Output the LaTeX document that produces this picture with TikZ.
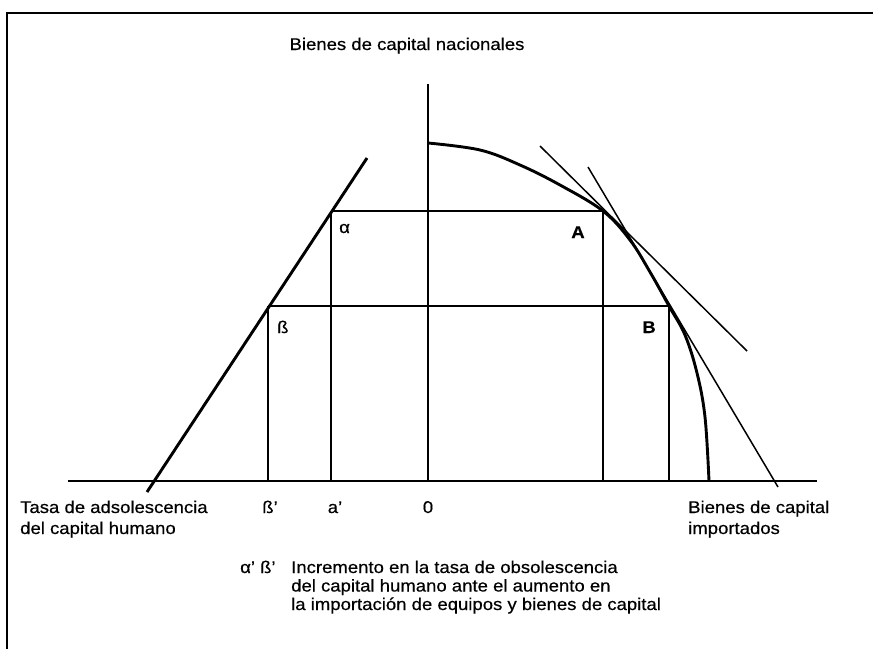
\documentclass[tikz,border=0pt]{standalone}
\usepackage{fontspec}
\setmainfont{Liberation Sans}[FakeStretch=1.09, FakeBold=0.5]
\begin{document}
\begin{tikzpicture}[x=1pt,y=-1pt,
  thinln/.style={line width=1.5pt},
  thickln/.style={line width=2.9pt},
  lbl/.style={font=\fontsize{17}{21}\selectfont, inner sep=0pt},
  lblb/.style={font=\fontsize{17}{21}\selectfont\bfseries, inner sep=0pt}]
\useasboundingbox (0,0) rectangle (873,649);
% frame
\draw[line width=2.8pt] (7,649) -- (7,13) -- (873,13);
% coordinates
\coordinate (O) at (428,481);
\coordinate (Ytop) at (428,84);
\coordinate (Xl) at (68,481);
\coordinate (Xr) at (817,481);
\coordinate (al) at (331,211);
\coordinate (be) at (268,306);
\coordinate (Ap) at (603,211);
\coordinate (Bp) at (669,306);
\coordinate (al0) at (331,481);
\coordinate (be0) at (268,481);
\coordinate (Ap0) at (603,481);
\coordinate (Bp0) at (669,481);
\coordinate (Ltop) at (367,158);
\coordinate (Lbot) at (147,492);
\coordinate (T1a) at (540,146);
\coordinate (T1b) at (747,351);
\coordinate (T2a) at (588,167);
\coordinate (T2b) at (778,487);
% axes
\draw[thinln] (Xl) -- (Xr);
\draw[thinln] (Ytop) -- (O);
% rectangles
\draw[thinln] (al) -- (Ap) -- (Ap0);
\draw[thinln] (al) -- (al0);
\draw[thinln] (be) -- (Bp) -- (Bp0);
\draw[thinln] (be) -- (be0);
% left line
\draw[thickln] (Ltop) -- (Lbot);
% tangents
\draw[thinln] (T1a) -- (T1b);
\draw[thinln] (T2a) -- (T2b);
% frontier curve
\draw[thickln] plot[smooth, tension=0.6] coordinates {(428,143) (480,150) (520,165) (560,185) (603,211) (630,240) (650,272) (669,306) (685,335) (697,373) (705,417) (709,481)};
% labels
\node[lbl, anchor=base] (title) at (407,50) {Bienes de capital nacionales};
\node[lbl, anchor=base west] (lal) at (339,233) {α};
\node[lbl, anchor=base west] (lbe) at (277,333) {ß};
\node[lblb, anchor=base] (lA) at (578,238) {A};
\node[lblb, anchor=base] (lB) at (649,333) {B};
\node[lbl, anchor=base] (lbe1) at (270,513) {ß'};
\node[lbl, anchor=base] (lal1) at (335,513) {a'};
\node[lbl, anchor=base] (l0) at (428,513) {0};
\node[lbl, anchor=base west, align=left] (ltasa) at (20,534) {Tasa de adsolescencia\\del capital humano};
\node[lbl, anchor=base west, align=left] (limp) at (688,534) {Bienes de capital\\importados};
\node[lbl, anchor=base west] (lab) at (240,573) {α' ß'};
\node[lbl, anchor=base west, align=left, font=\fontsize{17}{18.5}\selectfont] (leg) at (291,610) {Incremento en la tasa de obsolescencia\\del capital humano ante el aumento en\\la importación de equipos y bienes de capital};
\end{tikzpicture}
\end{document}
